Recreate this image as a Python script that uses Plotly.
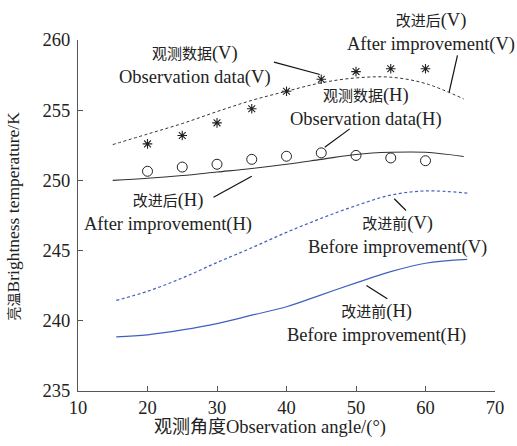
import plotly.graph_objects as go

# Observation angles and data
obs_angle = [20, 25, 30, 35, 40, 45, 50, 55, 60]
obs_v = [252.6, 253.2, 254.1, 255.1, 256.35, 257.2, 257.75, 257.95, 257.95]
obs_h = [250.65, 250.95, 251.15, 251.5, 251.72, 251.96, 251.78, 251.6, 251.4]

# Model curves
after_angle = [15, 20, 25, 30, 35, 40, 45, 50, 55, 60, 65.5]
after_v = [252.55, 253.3, 254.05, 254.9, 255.7, 256.35, 256.95, 257.3, 257.35, 256.9, 255.8]
after_h = [250.0, 250.15, 250.35, 250.6, 250.85, 251.15, 251.5, 251.85, 252.0, 252.0, 251.7]

before_angle = [15.5, 20, 25, 30, 35, 40, 45, 50, 55, 60, 66]
before_v = [241.45, 242.1, 243.05, 244.15, 245.2, 246.3, 247.3, 248.2, 248.95, 249.25, 249.1]
before_h = [238.85, 239.0, 239.35, 239.8, 240.4, 241.0, 241.85, 242.7, 243.5, 244.1, 244.37]

x_ticks = [10, 20, 30, 40, 50, 60, 70]
y_ticks = [235, 240, 245, 250, 255, 260]

BLUE = "#4060c0"
FONT = "Liberation Serif, Noto Sans CJK SC, serif"
TXT = "#222222"

fig = go.Figure()
fig.add_trace(go.Scatter(x=after_angle, y=after_v, mode="lines",
                         line=dict(color="#333333", width=1, dash="3px,2.5px"), line_shape="spline"))
fig.add_trace(go.Scatter(x=after_angle, y=after_h, mode="lines",
                         line=dict(color="#333333", width=1.1), line_shape="spline"))
fig.add_trace(go.Scatter(x=before_angle, y=before_v, mode="lines",
                         line=dict(color=BLUE, width=1.2, dash="3px,2.5px"), line_shape="spline"))
fig.add_trace(go.Scatter(x=before_angle, y=before_h, mode="lines",
                         line=dict(color=BLUE, width=1.2), line_shape="spline"))
fig.add_trace(go.Scatter(x=obs_angle, y=obs_v, mode="markers",
                         marker=dict(symbol="asterisk-open", size=8, color="#222222",
                                     line=dict(color="#222222", width=1.1))))
fig.add_trace(go.Scatter(x=obs_angle, y=obs_h, mode="markers",
                         marker=dict(symbol="circle-open", size=10, color="#222222",
                                     line=dict(color="#222222", width=1))))

# pointer lines
pointers = [
    (38.2, 258.42, 44.8, 257.54),
    (64.6, 258.9, 63.4, 256.28),
    (49.1, 253.67, 45.5, 252.36),
    (29.5, 248.8, 35.0, 250.3),
    (55.5, 248.69, 57.2, 247.86),
    (51.5, 242.51, 54.5, 241.57),
]
for x0, y0, x1, y1 in pointers:
    fig.add_shape(type="line", x0=x0, y0=y0, x1=x1, y1=y1, xref="x", yref="y",
                  line=dict(color="#111111", width=1.2))

def lbl(cn, en, tag):
    return f"<span style='font-size:15px'>{cn}</span>({tag})<br>{en}({tag})"

labels = [
    (26.83, 258.18, "y", lbl("观测数据", "Observation data", "V")),
    (60.79, 1.02, "paper", lbl("改进后", "After improvement", "V")),
    (51.51, 255.16, "y", lbl("观测数据", "Observation data", "H")),
    (22.95, 247.74, "y", lbl("改进后", "After improvement", "H")),
    (55.9, 246.1, "y", lbl("改进前", "Before improvement", "V")),
    (52.88, 239.82, "y", lbl("改进前", "Before improvement", "H")),
]
for x, y, yr, t in labels:
    fig.add_annotation(x=x, y=y, text=t, showarrow=False, xref="x", yref=yr,
                       font=dict(family=FONT, size=18.5, color=TXT),
                       xanchor="center", yanchor="middle", align="center")

# axis titles
fig.add_annotation(x=0.46, y=-0.105, xref="paper", yref="paper", showarrow=False,
                   text="<span style='font-size:18px'>观测角度</span>Observation angle/(°)",
                   font=dict(family=FONT, size=18.5, color=TXT),
                   xanchor="center", yanchor="middle")
fig.add_annotation(x=-0.156, y=0.5, xref="paper", yref="paper", showarrow=False,
                   text="<span style='font-size:14px'>亮温</span>Brightness temperature/K",
                   font=dict(family=FONT, size=17.5, color=TXT), textangle=-90,
                   xanchor="center", yanchor="middle")

fig.update_layout(
    width=517, height=446,
    margin=dict(l=78, r=22, t=40, b=55),
    paper_bgcolor="white", plot_bgcolor="white",
    showlegend=False,
    font=dict(family=FONT, size=18.5, color=TXT),
)
fig.update_xaxes(range=[10, 70], tickvals=x_ticks, showgrid=False, zeroline=False,
                 showline=True, linecolor="#555555", linewidth=1, automargin=False,
                 ticks="inside", ticklen=5, tickcolor="#555555",
                 tickfont=dict(family=FONT, size=18.5, color=TXT))
fig.update_yaxes(range=[235, 260], tickvals=y_ticks, showgrid=False, zeroline=False,
                 showline=True, linecolor="#555555", linewidth=1, automargin=False,
                 ticks="inside", ticklen=5, tickcolor="#555555", ticklabelstandoff=3,
                 tickfont=dict(family=FONT, size=18.5, color=TXT))

fig.write_html("out.html", config={"displayModeBar": False},
               post_script="document.body.style.margin='0';document.body.style.padding='0';")
